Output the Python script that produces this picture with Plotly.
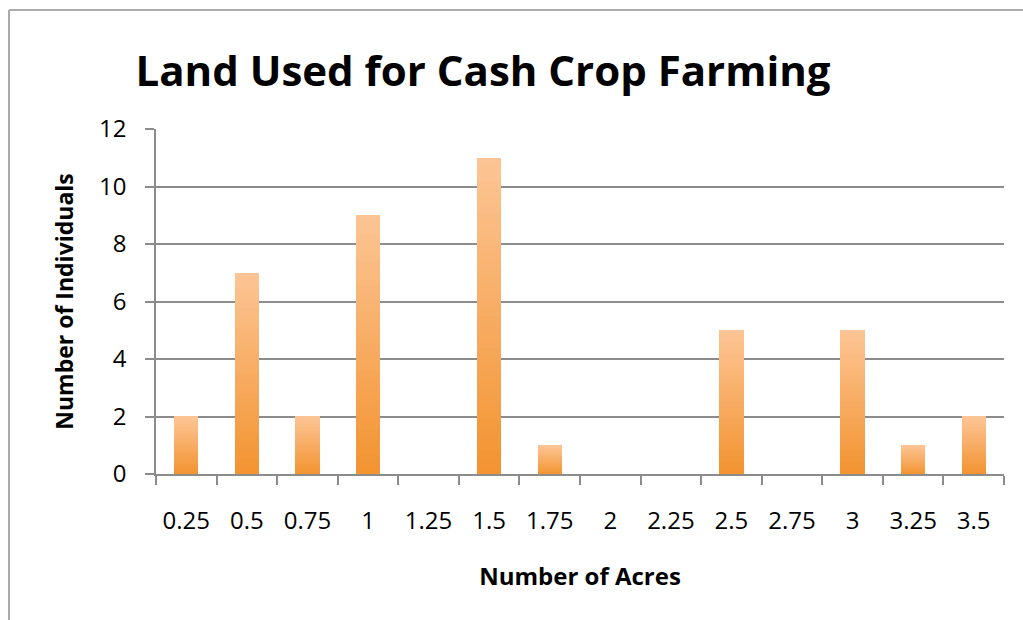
import plotly.graph_objects as go

# Survey data: acreage classes and how many individuals fall in each
acres = ["0.25", "0.5", "0.75", "1", "1.25", "1.5", "1.75", "2",
         "2.25", "2.5", "2.75", "3", "3.25", "3.5"]
individuals = [2, 7, 2, 9, 0, 11, 1, 0, 0, 5, 0, 5, 1, 2]

# Figure geometry (pixels)
W, H = 1023, 620
PLOT_L, PLOT_R, PLOT_T, PLOT_B = 156, 1004, 129, 474
FRAME_X, FRAME_Y = 9, 10

# Vertical gradient for the bars: dark orange at the base, pale at the top
BASE_RGB = (243, 148, 49)
TOP_RGB = (252, 196, 148)
N_BANDS = 40


def band_color(k):
    t = k / (N_BANDS - 1)
    r, g, b = (round(a + (c - a) * t) for a, c in zip(BASE_RGB, TOP_RGB))
    return f"rgb({r},{g},{b})"


fig = go.Figure()
for k in range(N_BANDS):
    fig.add_trace(go.Bar(
        x=acres,
        y=[v / N_BANDS for v in individuals],
        marker=dict(color=band_color(k), line=dict(width=0)),
        hoverinfo="skip",
        showlegend=False,
    ))

plot_w = PLOT_R - PLOT_L
plot_h = PLOT_B - PLOT_T
fx = (FRAME_X - PLOT_L) / plot_w
fy = 1 + (PLOT_T - FRAME_Y) / plot_h
frame_style = dict(color="#ababab", width=2)

fig.update_layout(
    width=W, height=H,
    margin=dict(l=PLOT_L, r=W - PLOT_R, t=PLOT_T, b=H - PLOT_B),
    paper_bgcolor="white",
    plot_bgcolor="white",
    barmode="stack",
    bargap=0.6,
    font=dict(family="Open Sans", color="black"),
    title=dict(
        text="<b>Land Used for Cash Crop Farming</b>",
        font=dict(family="Open Sans", size=42, color="black"),
        xref="container", x=483 / W, xanchor="center",
        yref="container", y=1 - 71 / H, yanchor="middle",
    ),
    xaxis=dict(
        type="category",
        showline=True, linecolor="#8c8c8c", linewidth=1.5,
        ticks="outside", tickson="boundaries", ticklen=9,
        tickcolor="#8c8c8c", tickwidth=1.5,
        tickfont=dict(size=24),
        ticklabelstandoff=24,
        showgrid=False,
        title=dict(text="<b>Number of Acres</b>", font=dict(size=24),
                   standoff=34),
    ),
    yaxis=dict(
        range=[0, 12], dtick=2,
        showline=True, linecolor="#8c8c8c", linewidth=1.5,
        ticks="outside", ticklen=9, tickcolor="#8c8c8c", tickwidth=1.5,
        tickfont=dict(size=24),
        ticklabelstandoff=14,
        showgrid=True, gridcolor="#8c8c8c", gridwidth=1.5,
        zeroline=False,
        title=dict(text="<b>Number of Individuals</b>", font=dict(size=23),
                   standoff=19),
    ),
    shapes=[
        dict(type="line", xref="paper", yref="paper",
             x0=fx, x1=fx, y0=fy, y1=-1, line=frame_style, layer="below"),
        dict(type="line", xref="paper", yref="paper",
             x0=fx, x1=1.2, y0=fy, y1=fy, line=frame_style, layer="below"),
    ],
)

fig.write_html("out.html")
